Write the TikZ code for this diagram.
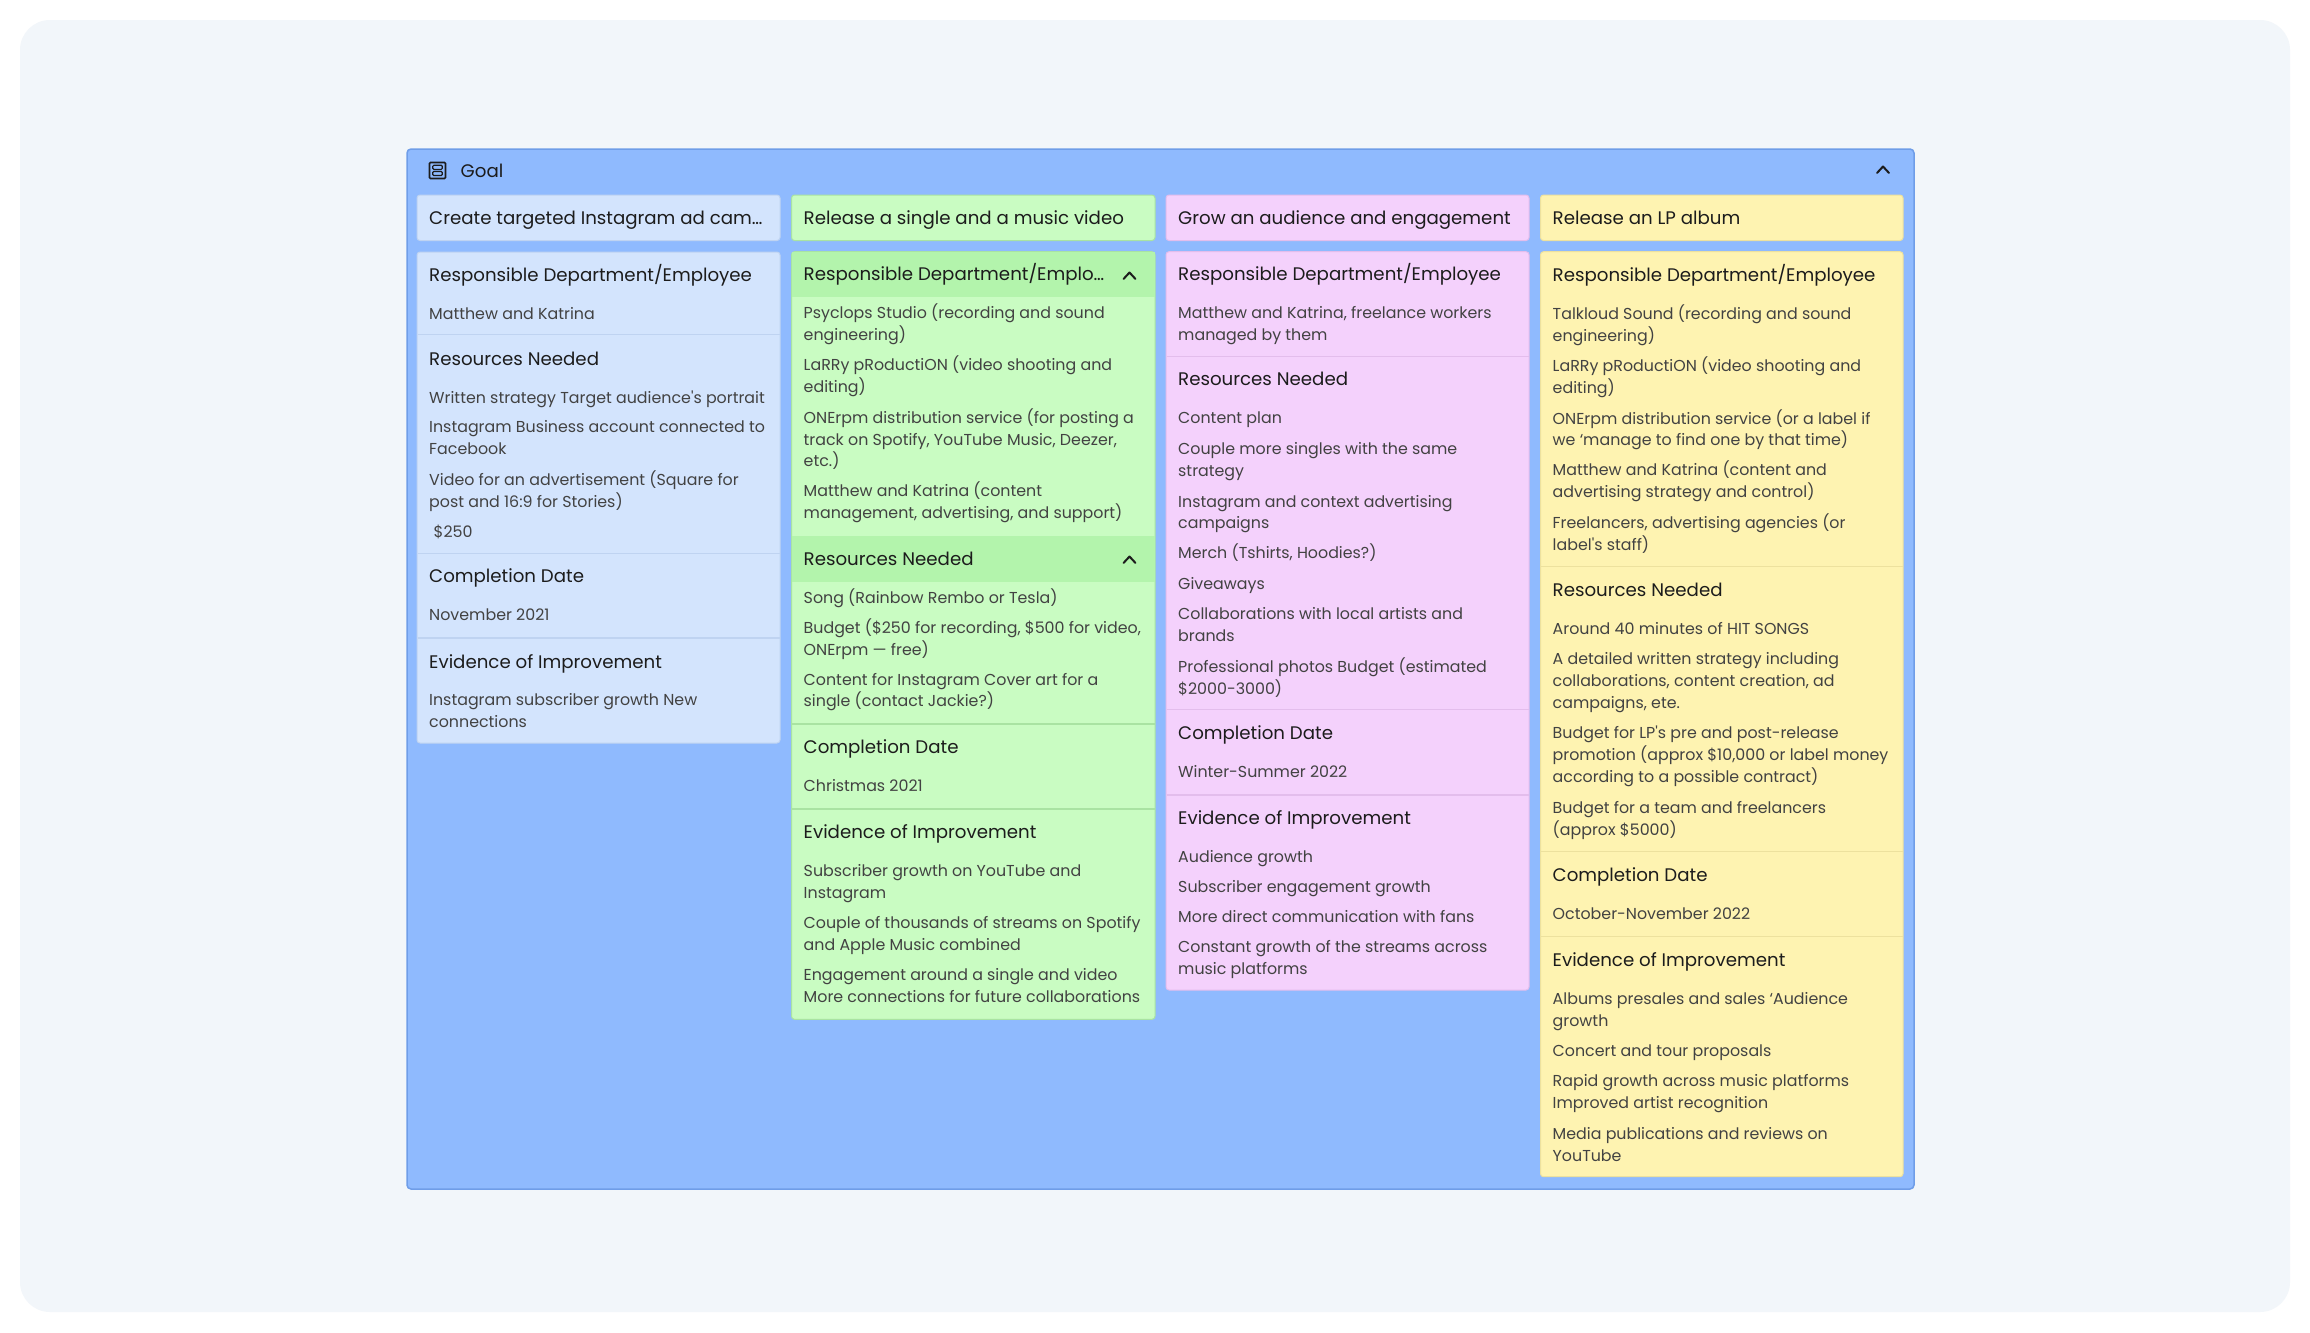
\documentclass[tikz,border=0pt]{standalone}
\usepackage{fontspec}
\setmainfont{Poppins}
\definecolor{pagebg}{HTML}{F2F6FA}
\definecolor{panel}{HTML}{8FBAFE}
\definecolor{panelline}{HTML}{6F9DE8}
\definecolor{cblue}{HTML}{D3E4FD}
\definecolor{cbluel}{HTML}{BFD3F1}
\definecolor{cgreen}{HTML}{C9FCC2}
\definecolor{cgreenb}{HTML}{B3F4AC}
\definecolor{cgreenl}{HTML}{A9E3A2}
\definecolor{cpink}{HTML}{F4D1FC}
\definecolor{cpinkl}{HTML}{E3BDEC}
\definecolor{cyellow}{HTML}{FEF3B1}
\definecolor{cyellowl}{HTML}{EDE19E}
\definecolor{headtxt}{HTML}{1C1C1C}
\definecolor{bodytxt}{HTML}{424242}
\tikzset{
  body/.style={anchor=base west, inner sep=0pt, text=bodytxt, font=\fontsize{15.85}{20}\selectfont},
  head/.style={anchor=base west, inner sep=0pt, text=headtxt, font=\fontsize{18.2}{24}\selectfont},
  ttl/.style={anchor=base west, inner sep=0pt, text=headtxt, font=\fontsize{18.2}{24}\selectfont},
  chev/.style={draw=headtxt, line width=2pt, line cap=round, line join=round},
  sepline/.style={line width=1.5pt},
}
\newcommand\bodyln[4]{\node[body] (#1) at (#2,#3) {#4};}
\newcommand\headln[4]{\node[head] (#1) at (#2,#3) {#4};}
\newcommand\apos{\textquotesingle}
\begin{document}
\begin{tikzpicture}[x=1pt,y=-1pt]
\useasboundingbox (0,0) rectangle (2310,1333);
\fill[white] (0,0) rectangle (2310,1333);
\fill[pagebg, rounded corners=30pt] (20,20) rectangle (2290,1312);
% panel
\draw[fill=panel, draw=panelline, line width=1.5pt, rounded corners=4pt] (407,149) rectangle (1914,1189);
% header row
\draw[draw=headtxt, line width=1.6pt, rounded corners=1pt] (429.5,162.5) rectangle (445.5,178.5);
\draw[draw=headtxt, line width=1.2pt, rounded corners=1pt] (432.8,165.3) rectangle (442.2,169.4);
\draw[draw=headtxt, line width=1.2pt, rounded corners=1pt] (432.8,171.4) rectangle (442.2,175.5);
\node[ttl] (goal) at (460.5,177) {Goal};
\draw[chev] (1877,173) -- (1883,166.5) -- (1889,173);

% ---------- titles ----------
\draw[fill=cblue, draw=cbluel, line width=1pt, rounded corners=3pt] (417,195) rectangle (780,240.5);
\draw[fill=cgreen, draw=cgreenl, line width=1pt, rounded corners=3pt] (791.5,195) rectangle (1155,240.5);
\draw[fill=cpink, draw=cpinkl, line width=1pt, rounded corners=3pt] (1166,195) rectangle (1529,240.5);
\draw[fill=cyellow, draw=cyellowl, line width=1pt, rounded corners=3pt] (1540.5,195) rectangle (1903,240.5);
\node[ttl] (t1) at (429,224) {Create targeted Instagram ad cam…};
\node[ttl] (t2) at (803.5,224) {Release a single and a music video};
\node[ttl] (t3) at (1178,224) {Grow an audience and engagement};
\node[ttl] (t4) at (1552.5,224) {Release an LP album};

% ---------- column 1 ----------
\draw[fill=cblue, draw=cbluel, line width=1pt, rounded corners=3pt] (417,252) rectangle (780,743);
\draw[sepline, cbluel] (417.5,334.5) -- (779.5,334.5);
\draw[sepline, cbluel] (417.5,553.5) -- (779.5,553.5);
\draw[sepline, cbluel] (417.5,638) -- (779.5,638);
\headln{a1}{429}{281.5}{Responsible Department/Employee}
\bodyln{a2}{429}{319}{Matthew and Katrina}
\headln{a3}{429}{365}{Resources Needed}
\bodyln{a4}{429}{403}{Written strategy Target audience\apos s portrait}
\bodyln{a5}{429}{432.5}{Instagram Business account connected to}
\bodyln{a6}{429}{454.5}{Facebook}
\bodyln{a7}{429}{485}{Video for an advertisement (Square for}
\bodyln{a8}{429}{507}{post and 16:9 for Stories)}
\bodyln{a9}{433.5}{537}{\$250}
\headln{a10}{429}{582.5}{Completion Date}
\bodyln{a11}{429}{620}{November 2021}
\headln{a12}{429}{668}{Evidence of Improvement}
\bodyln{a13}{429}{705.5}{Instagram subscriber growth New}
\bodyln{a14}{429}{727.5}{connections}

% ---------- column 2 ----------
\draw[fill=cgreen, draw=cgreenl, line width=1pt, rounded corners=3pt] (791.5,251.7) rectangle (1155,1019.3);
\fill[cgreenb] (792,252.2) rectangle (1154.5,296.7);
\fill[cgreenb] (792,536) rectangle (1154.5,581.5);
\draw[sepline, cgreenl] (792,724) -- (1154.5,724);
\draw[sepline, cgreenl] (792,809) -- (1154.5,809);
\headln{b1}{803.5}{280.3}{Responsible Department/Emplo…}
\draw[chev] (1123.5,279) -- (1129.5,272.5) -- (1135.5,279);
\bodyln{b2}{803.5}{318.3}{Psyclops Studio (recording and sound}
\bodyln{b3}{803.5}{340.1}{engineering)}
\bodyln{b4}{803.5}{370.7}{LaRRy pRoductiON (video shooting and}
\bodyln{b5}{803.5}{392.5}{editing)}
\bodyln{b6}{803.5}{423.3}{ONErpm distribution service (for posting a}
\bodyln{b7}{803.5}{445.1}{track on Spotify, YouTube Music, Deezer,}
\bodyln{b8}{803.5}{466.9}{etc.)}
\bodyln{b9}{803.5}{496.9}{Matthew and Katrina (content}
\bodyln{b10}{803.5}{518.7}{management, advertising, and support)}
\headln{b11}{803.5}{565}{Resources Needed}
\draw[chev] (1123.5,563) -- (1129.5,556.5) -- (1135.5,563);
\bodyln{b12}{803.5}{603.3}{Song (Rainbow Rembo or Tesla)}
\bodyln{b13}{803.5}{633.3}{Budget (\$250 for recording, \$500 for video,}
\bodyln{b14}{803.5}{655.1}{ONErpm — free)}
\bodyln{b15}{803.5}{685}{Content for Instagram Cover art for a}
\bodyln{b16}{803.5}{706.8}{single (contact Jackie?)}
\headln{b17}{803.5}{753.3}{Completion Date}
\bodyln{b18}{803.5}{791}{Christmas 2021}
\headln{b19}{803.5}{838.3}{Evidence of Improvement}
\bodyln{b20}{803.5}{876.7}{Subscriber growth on YouTube and}
\bodyln{b21}{803.5}{898.5}{Instagram}
\bodyln{b22}{803.5}{928.3}{Couple of thousands of streams on Spotify}
\bodyln{b23}{803.5}{950.1}{and Apple Music combined}
\bodyln{b24}{803.5}{980.7}{Engagement around a single and video}
\bodyln{b25}{803.5}{1002.5}{More connections for future collaborations}

% ---------- column 3 ----------
\draw[fill=cpink, draw=cpinkl, line width=1pt, rounded corners=3pt] (1166,251.7) rectangle (1529,990);
\draw[sepline, cpinkl] (1166.5,356.5) -- (1528.5,356.5);
\draw[sepline, cpinkl] (1166.5,709.5) -- (1528.5,709.5);
\draw[sepline, cpinkl] (1166.5,795) -- (1528.5,795);
\headln{c1}{1178}{280.7}{Responsible Department/Employee}
\bodyln{c2}{1178}{318.6}{Matthew and Katrina, freelance workers}
\bodyln{c3}{1178}{340.4}{managed by them}
\headln{c4}{1178}{385.5}{Resources Needed}
\bodyln{c5}{1178}{423.4}{Content plan}
\bodyln{c6}{1178}{454.5}{Couple more singles with the same}
\bodyln{c7}{1178}{476.3}{strategy}
\bodyln{c8}{1178}{507}{Instagram and context advertising}
\bodyln{c9}{1178}{528.8}{campaigns}
\bodyln{c10}{1178}{558.6}{Merch (Tshirts, Hoodies?)}
\bodyln{c11}{1178}{589}{Giveaways}
\bodyln{c12}{1178}{619.5}{Collaborations with local artists and}
\bodyln{c13}{1178}{641.5}{brands}
\bodyln{c14}{1178}{672}{Professional photos Budget (estimated}
\bodyln{c15}{1178}{694}{\$2000-3000)}
\headln{c16}{1178}{739.3}{Completion Date}
\bodyln{c17}{1178}{777.3}{Winter-Summer 2022}
\headln{c18}{1178}{824.3}{Evidence of Improvement}
\bodyln{c19}{1178}{862.3}{Audience growth}
\bodyln{c20}{1178}{892.7}{Subscriber engagement growth}
\bodyln{c21}{1178}{922.7}{More direct communication with fans}
\bodyln{c22}{1178}{952.7}{Constant growth of the streams across}
\bodyln{c23}{1178}{974.5}{music platforms}

% ---------- column 4 ----------
\draw[fill=cyellow, draw=cyellowl, line width=1pt, rounded corners=3pt] (1540.5,251.7) rectangle (1903,1176.7);
\draw[sepline, cyellowl] (1541,566.3) -- (1902.5,566.3);
\draw[sepline, cyellowl] (1541,851.7) -- (1902.5,851.7);
\draw[sepline, cyellowl] (1541,936.7) -- (1902.5,936.7);
\headln{d1}{1552.5}{281.2}{Responsible Department/Employee}
\bodyln{d2}{1552.5}{319.1}{Talkloud Sound (recording and sound}
\bodyln{d3}{1552.5}{341}{engineering)}
\bodyln{d4}{1552.5}{371.4}{LaRRy pRoductiON (video shooting and}
\bodyln{d5}{1552.5}{393.2}{editing)}
\bodyln{d6}{1552.5}{424.1}{ONErpm distribution service (or a label if}
\bodyln{d7}{1552.5}{445.9}{we ‘manage to find one by that time)}
\bodyln{d8}{1552.5}{475.7}{Matthew and Katrina (content and}
\bodyln{d9}{1552.5}{497.5}{advertising strategy and control)}
\bodyln{d10}{1552.5}{528.4}{Freelancers, advertising agencies (or}
\bodyln{d11}{1552.5}{550.2}{label\apos s staff)}
\headln{d12}{1552.5}{596.3}{Resources Needed}
\bodyln{d13}{1552.5}{634.1}{Around 40 minutes of HIT SONGS}
\bodyln{d14}{1552.5}{664.5}{A detailed written strategy including}
\bodyln{d15}{1552.5}{686.3}{collaborations, content creation, ad}
\bodyln{d16}{1552.5}{708.1}{campaigns, ete.}
\bodyln{d17}{1552.5}{738.3}{Budget for LP\apos s pre and post-release}
\bodyln{d18}{1552.5}{760.4}{promotion (approx \$10,000 or label money}
\bodyln{d19}{1552.5}{782.5}{according to a possible contract)}
\bodyln{d20}{1552.5}{813}{Budget for a team and freelancers}
\bodyln{d21}{1552.5}{835}{(approx \$5000)}
\headln{d22}{1552.5}{881.7}{Completion Date}
\bodyln{d23}{1552.5}{919.3}{October-November 2022}
\headln{d24}{1552.5}{966.7}{Evidence of Improvement}
\bodyln{d25}{1552.5}{1004.3}{Albums presales and sales ‘Audience}
\bodyln{d26}{1552.5}{1026.1}{growth}
\bodyln{d27}{1552.5}{1056.7}{Concert and tour proposals}
\bodyln{d28}{1552.5}{1086.7}{Rapid growth across music platforms}
\bodyln{d29}{1552.5}{1108.5}{Improved artist recognition}
\bodyln{d30}{1552.5}{1139.3}{Media publications and reviews on}
\bodyln{d31}{1552.5}{1161.1}{YouTube}
\end{tikzpicture}
\end{document}
